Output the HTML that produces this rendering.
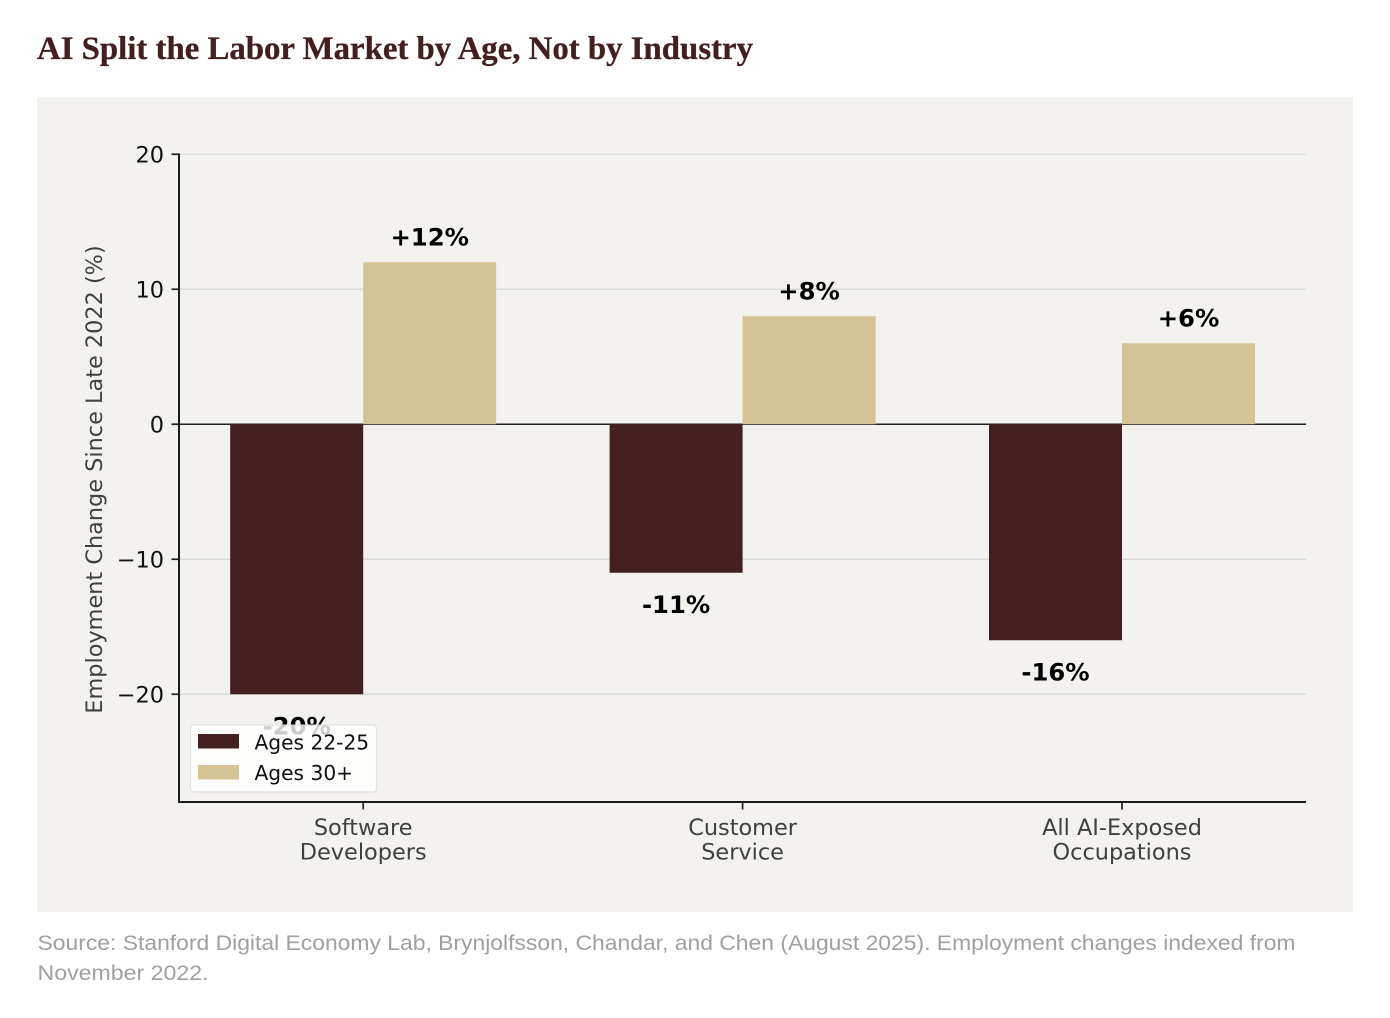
<!DOCTYPE html>
<html lang="en">
<head>
<meta charset="utf-8">
<title>AI Split the Labor Market by Age, Not by Industry</title>
<style>
html,body{margin:0;padding:0;background:#fff;width:1390px;height:1018px;overflow:hidden}
svg{display:block;position:absolute;left:0;top:0}
</style>
</head>
<body>
<svg id="chart" width="1390" height="1018" viewBox="0 0 1390 1018" xmlns="http://www.w3.org/2000/svg">
  <text x="37" y="59" font-family="'Liberation Serif',serif" font-weight="700" font-size="33" fill="#43201f" stroke="#43201f" stroke-width="0.3" textLength="716" lengthAdjust="spacingAndGlyphs">AI Split the Labor Market by Age, Not by Industry</text>
  <rect x="37" y="97" width="1316" height="815" fill="#f3f2ee"/>
  <g id="plot"></g>
  <text x="37.5" y="950" font-family="'Liberation Sans',sans-serif" font-size="21.5" fill="#a0a0a0" textLength="1258" lengthAdjust="spacingAndGlyphs">Source: Stanford Digital Economy Lab, Brynjolfsson, Chandar, and Chen (August 2025). Employment changes indexed from</text>
  <text x="37.5" y="980" font-family="'Liberation Sans',sans-serif" font-size="21.5" fill="#a0a0a0" textLength="171" lengthAdjust="spacingAndGlyphs">November 2022.</text>
</svg>
<script>
const categoryLines = [["Software", "Developers"], ["Customer", "Service"], ["All AI-Exposed", "Occupations"]];
const youngValues = [-20, -11, -16];
const olderValues = [12, 8, 6];
const yTicks = [20, 10, 0, -10, -20];
const seriesNames = ["Ages 22-25", "Ages 30+"];

const NS = "http://www.w3.org/2000/svg";
const plot = document.getElementById("plot");
const FONT = "'DejaVu Sans',sans-serif";
const COLOR_YOUNG = "#43201f";
const COLOR_OLD = "#d4c395";
const axLeft = 179, axRight = 1306, axBottom = 802;

function y(v) { return 424.25 - v * 13.5; }
function x(i) { return 363.2 + i * 379.4; }
const barW = 133;

function make(tag, attrs, text) {
  const el = document.createElementNS(NS, tag);
  for (const k in attrs) el.setAttribute(k, attrs[k]);
  if (text !== undefined) el.textContent = text;
  plot.appendChild(el);
  return el;
}

yTicks.forEach(function (t) {
  const isZero = t === 0;
  const isTop = t === 20;
  const line = make("line", {
    x1: axLeft, x2: axRight, y1: y(t), y2: y(t),
    stroke: isZero ? "#222222" : "#dadad6",
    "stroke-width": isZero ? 1.4 : (isTop ? 1 : 1.6)
  });
  
  
});

categoryLines.forEach(function (lines, i) {
  const a = make("rect", {
    x: x(i) - barW, width: barW, y: y(0), height: y(youngValues[i]) - y(0), fill: COLOR_YOUNG
  });
  
  
  const vo = olderValues[i];
  const b = make("rect", {
    x: x(i), width: barW, y: y(vo), height: y(0) - y(vo), fill: COLOR_OLD
  });
  
  

  const la = make("text", {
    x: x(i) - barW / 2, y: y(youngValues[i]) + 40, "text-anchor": "middle",
    "font-family": FONT, "font-weight": 700, "font-size": 24.3, fill: "#000"
  }, youngValues[i] + "%");
  
  
  const lb = make("text", {
    x: x(i) + barW / 2, y: y(vo) - 17, "text-anchor": "middle",
    "font-family": FONT, "font-weight": 700, "font-size": 24.3, fill: "#000"
  }, "+" + vo + "%");
  
  

  const tick = make("line", {
    x1: x(i), x2: x(i), y1: axBottom, y2: axBottom + 7.5, stroke: "#222", "stroke-width": 1.7
  });
  
  
  lines.forEach(function (s, j) {
    const tl = make("text", {
      x: x(i), y: 835 + j * 24.5, "text-anchor": "middle",
      "font-family": FONT, "font-size": 22.4, fill: "#404040"
    }, s);
    
    
  });
});

yTicks.forEach(function (t) {
  const tick = make("line", {
    x1: axLeft - 7.5, x2: axLeft, y1: y(t), y2: y(t), stroke: "#222", "stroke-width": 1.7
  });
  
  
  const lab = make("text", {
    x: axLeft - 15, y: y(t) + 8, "text-anchor": "end",
    "font-family": FONT, "font-size": 22.4, fill: "#111"
  }, String(t).replace("-", "\u2212"));
  
  
});

const spineL = make("line", { x1: axLeft, x2: axLeft, y1: y(20) - 0.8, y2: axBottom + 1, stroke: "#1c1c1c", "stroke-width": 2 });


const spineB = make("line", { x1: axLeft, x2: axRight, y1: axBottom, y2: axBottom, stroke: "#1c1c1c", "stroke-width": 2 });



const yTitle = make("text", {
  transform: "translate(102 479.5) rotate(-90)", "text-anchor": "middle",
  "font-family": FONT, "font-size": 22.4, fill: "#404040"
}, "Employment Change Since Late 2022 (%)");



const legendBox = make("rect", {
  x: 190.5, y: 725, width: 186, height: 67, rx: 3.5, fill: "#ffffff", "fill-opacity": 0.8,
  stroke: "#dcdcdc", "stroke-opacity": 0.8, "stroke-width": 1.2
});


[COLOR_YOUNG, COLOR_OLD].forEach(function (c, i) {
  const sw = make("rect", { x: 198, y: 734 + i * 31, width: 41, height: 14.5, fill: c });
  
  
  const lt = make("text", {
    x: 254.5, y: 749.3 + i * 30.7, "font-family": FONT, "font-size": 20.2, fill: "#111"
  }, seriesNames[i]);
  
  
});
</script>
</body>
</html>
